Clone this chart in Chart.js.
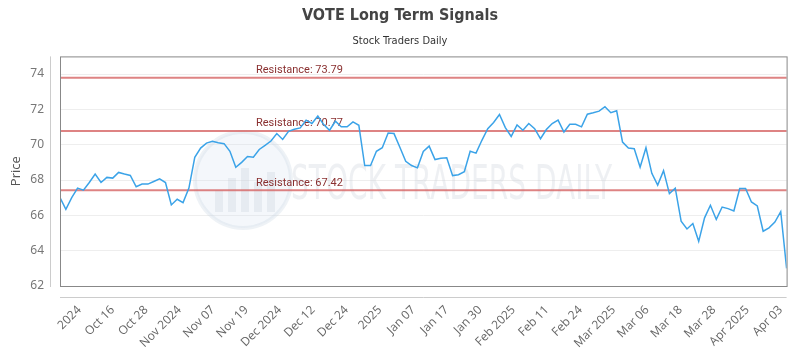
<!DOCTYPE html>
<html>
<head>
<meta charset="utf-8">
<script src="https://cdn.jsdelivr.net/npm/chart.js@4.4.1/dist/chart.umd.min.js"></script>
<style>
  html, body { margin: 0; padding: 0; background: #fff; }
</style>
</head>
<body>
<canvas id="myChart" width="800" height="350"></canvas>
<script>
/* Daten */
const prices = [
  67.0, 66.34, 67.0, 67.54, 67.43, 67.86, 68.34, 67.86, 68.15, 68.11,
  68.43, 68.34, 68.26, 67.62, 67.77, 67.77, 67.92, 68.07, 67.86, 66.59,
  66.91, 66.72, 67.54, 69.29, 69.81, 70.09, 70.19, 70.11, 70.06, 69.63,
  68.72, 69.0, 69.33, 69.29, 69.73, 69.96, 70.21, 70.63, 70.30, 70.76,
  70.87, 70.95, 71.39, 71.2, 71.62, 71.14, 70.82, 71.33, 71.01, 71.01,
  71.29, 71.1, 68.82, 68.82, 69.63, 69.83, 70.66, 70.63, 69.86, 69.06,
  68.82, 68.69, 69.62, 69.92, 69.16, 69.23, 69.26, 68.25, 68.30, 68.47,
  69.63, 69.52, 70.25, 70.91, 71.26, 71.71, 70.97, 70.47, 71.12, 70.82,
  71.2, 70.91, 70.34, 70.86, 71.2, 71.39, 70.72, 71.16, 71.16, 71.01,
  71.73, 71.81, 71.9, 72.15, 71.81, 71.92, 70.15, 69.81, 69.77, 68.72,
  69.83, 68.38, 67.71, 68.53, 67.23, 67.54, 65.67, 65.23, 65.54, 64.53,
  65.86, 66.57, 65.77, 66.47, 66.38, 66.25, 67.52, 67.52, 66.76, 66.53,
  65.1, 65.29, 65.62, 66.21, 63.0
];
const tickLabels = ['2024', 'Oct 16', 'Oct 28', 'Nov 2024', 'Nov 07', 'Nov 19', 'Dec 2024',
  'Dec 12', 'Dec 24', '2025', 'Jan 07', 'Jan 17', 'Jan 30', 'Feb 2025', 'Feb 11', 'Feb 24',
  'Mar 2025', 'Mar 06', 'Mar 18', 'Mar 28', 'Apr 2025', 'Apr 03'];
const yTicks = [62, 64, 66, 68, 70, 72, 74];
const resistance = [73.79, 70.77, 67.42];

const FIRST_TICK = 3.3;
const LAST_TICK = 123.0;

/* Wasserzeichen, Widerstaende, Rahmen */
const decoPlugin = {
  id: 'deco',
  beforeDatasetsDraw(chart) {
    const c = chart.ctx;
    const a = chart.chartArea;
    c.save();
    // logo
    c.beginPath();
    c.arc(243, 180, 48, 0, Math.PI * 2);
    c.fillStyle = 'rgba(210,225,238,0.25)';
    c.fill();
    c.lineWidth = 4;
    c.strokeStyle = 'rgba(200,212,225,0.3)';
    c.stroke();
    c.fillStyle = 'rgba(190,200,212,0.25)';
    [[215, 190, 8, 22], [228, 178, 8, 34], [241, 168, 8, 44], [254, 182, 8, 30], [267, 172, 8, 40]].forEach(r => {
      c.fillRect(r[0], r[1], r[2], r[3]);
    });
    // text
    c.font = '48px "DejaVu Sans Condensed", "DejaVu Sans"';
    const w = c.measureText('STOCK TRADERS DAILY').width;
    c.translate(291, 199);
    c.scale(321 / w, 1);
    c.fillStyle = 'rgba(200,206,214,0.3)';
    c.textBaseline = 'alphabetic';
    c.fillText('STOCK TRADERS DAILY', 0, 0);
    c.restore();

    // resistance
    const y = chart.scales.y;
    c.save();
    resistance.forEach(v => {
      const py = y.getPixelForValue(v);
      c.beginPath();
      c.moveTo(a.left, py);
      c.lineTo(a.right, py);
      c.lineWidth = 2;
      c.strokeStyle = 'rgba(214,100,100,0.8)';
      c.stroke();
      c.font = '11px Roboto';
      c.fillStyle = '#8a3030';
      c.textBaseline = 'bottom';
      c.fillText('Resistance: ' + v.toFixed(2), 256, py - 2);
    });
    c.restore();
  },
  afterDraw(chart) {
    const c = chart.ctx;
    const a = chart.chartArea;
    c.save();
    c.lineWidth = 1;
    c.strokeStyle = '#888';
    c.strokeRect(a.left + 0.5, a.top + 0.5, a.right - a.left, a.bottom - a.top);
    c.strokeStyle = '#ccc';
    c.beginPath();
    c.moveTo(a.left - 9.5, a.top);
    c.lineTo(a.left - 9.5, a.bottom + 1);
    c.moveTo(a.left, a.bottom + 11.5);
    c.lineTo(a.right, a.bottom + 11.5);
    c.stroke();
    c.restore();
  }
};

const ctx = document.getElementById('myChart');

new Chart(ctx, {
  type: 'line',
  data: {
    datasets: [{
      data: prices.map((p, i) => ({ x: i, y: p })),
      borderColor: '#3ba3e8',
      borderWidth: 1.5,
      pointRadius: 0,
      tension: 0,
      fill: false
    }]
  },
  options: {
    responsive: false,
    devicePixelRatio: 1,
    animation: false,
    layout: { padding: 0 },
    plugins: {
      legend: { display: false },
      tooltip: { enabled: false },
      title: {
        display: true,
        text: 'VOTE Long Term Signals',
        color: '#444',
        font: { family: '"DejaVu Sans Condensed", "DejaVu Sans"', size: 16, weight: 'bold' },
        padding: { top: 6, bottom: 6 }
      },
      subtitle: {
        display: true,
        text: 'Stock Traders Daily',
        color: '#333',
        font: { family: '"DejaVu Sans Condensed", "DejaVu Sans"', size: 11 },
        padding: { top: 3, bottom: 9 }
      }
    },
    scales: {
      x: {
        type: 'linear',
        min: 0,
        max: prices.length - 1,
        grid: { display: false },
        border: { display: false },
        afterBuildTicks: s => {
          s.ticks = tickLabels.map((l, k) => ({ value: FIRST_TICK + k * (LAST_TICK - FIRST_TICK) / (tickLabels.length - 1) }));
        },
        afterFit: s => { s.height = 64; },
        ticks: {
          autoSkip: false,
          minRotation: 45,
          maxRotation: 45,
          padding: 9,
          color: '#666',
          font: { family: '"Open Sans"', size: 12 },
          callback: (v, i) => tickLabels[i]
        }
      },
      y: {
        min: 62,
        max: 75,
        afterBuildTicks: s => { s.ticks = yTicks.map(v => ({ value: v })); },
        afterFit: s => { s.width = 60; },
        grid: { color: '#eeeeee', drawTicks: false },
        border: { display: false },
        title: {
          display: true,
          text: 'Price',
          color: '#555',
          font: { family: '"Open Sans"', size: 13 },
          padding: { top: 8, bottom: 0 }
        },
        ticks: {
          padding: 16,
          color: '#777',
          font: { family: '"Noto Sans"', size: 12 }
        }
      },
      // leerer Rand rechts
      yRight: {
        position: 'right',
        min: 62,
        max: 75,
        afterFit: s => { s.width = 10; },
        grid: { display: false, drawOnChartArea: false },
        border: { display: false },
        ticks: { display: false }
      }
    }
  },
  plugins: [decoPlugin]
});
</script>
</body>
</html>
